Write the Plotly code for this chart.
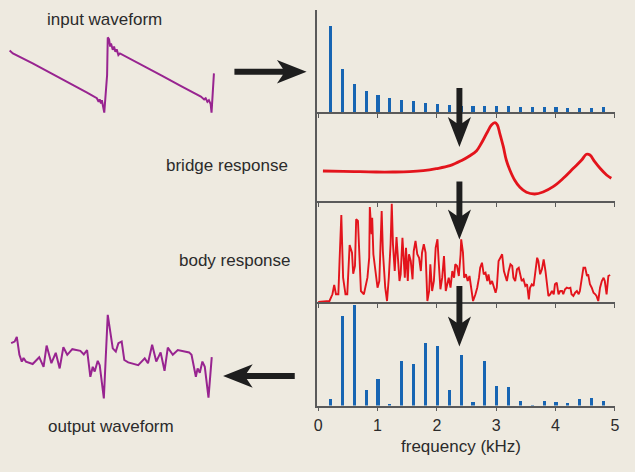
import plotly.graph_objects as go

# ---------------- data ----------------
harm_freq = [0.2, 0.4, 0.6, 0.8, 1.0, 1.2, 1.4, 1.6, 1.8, 2.0, 2.2, 2.4,
             2.6, 2.8, 3.0, 3.2, 3.4, 3.6, 3.8, 4.0, 4.2, 4.4, 4.6, 4.8]
input_spectrum = [85.7, 43, 27.7, 21, 16.7, 13.7, 12.3, 11.3, 9.3, 8, 7.3, 6.5,
                  6, 5.7, 5.7, 5.7, 4.7, 4.7, 4.7, 4.7, 4.3, 4.3, 4.3, 4.7]
output_spectrum = [6.3, 90, 101, 15.3, 27, 1.3, 45, 42, 62.3, 59.7, 15.3, 50.3,
                   4, 44.7, 19.7, 18.3, 4.7, 0.3, 4.7, 3.7, 3, 7, 7.3, 5]

bridge_freq = [0.08, 0.42, 0.70, 0.98, 1.26, 1.54, 1.77, 1.99, 2.22, 2.41, 2.55, 2.67,
               2.75, 2.84, 2.92, 2.98, 3.02, 3.06, 3.12, 3.17, 3.23, 3.31, 3.40, 3.51,
               3.65, 3.79, 3.96, 4.13, 4.30, 4.44, 4.52, 4.58, 4.66, 4.75, 4.86, 4.94]
bridge_amp = [30, 29.7, 29.3, 29, 29, 29.3, 30.3, 32.3, 35.3, 40.3, 45, 50.3,
              57.7, 67.7, 76, 78.3, 76, 67.7, 54.3, 41, 31, 21, 13.7, 8.7,
              7, 9, 14.3, 22.7, 32.7, 41, 46.7, 46, 39.3, 32.7, 26, 22.7]

body_freq = [0.00, 0.19, 0.24, 0.27, 0.30, 0.34, 0.36, 0.39, 0.42, 0.46,
             0.49, 0.53, 0.57, 0.59, 0.62, 0.64, 0.67, 0.69, 0.72, 0.77,
             0.83, 0.86, 0.87, 0.90, 0.91, 0.93, 0.97, 1.00, 1.03, 1.05,
             1.07, 1.09, 1.13, 1.16, 1.19, 1.22, 1.24, 1.26, 1.29, 1.32,
             1.35, 1.37, 1.39, 1.42, 1.45, 1.46, 1.48, 1.51, 1.53, 1.56,
             1.59, 1.61, 1.64, 1.67, 1.70, 1.73, 1.75, 1.78, 1.81, 1.84,
             1.87, 1.89, 1.92, 1.95, 1.98, 2.01, 2.03, 2.06, 2.09, 2.12,
             2.15, 2.17, 2.20, 2.23, 2.26, 2.29, 2.31, 2.34, 2.37, 2.40,
             2.41, 2.44, 2.46, 2.49, 2.52, 2.55, 2.58, 2.61, 2.65, 2.68,
             2.71, 2.73, 2.76, 2.79, 2.82, 2.85, 2.87, 2.90, 2.93, 2.96,
             2.99, 3.01, 3.04, 3.07, 3.10, 3.13, 3.15, 3.18, 3.21, 3.24,
             3.27, 3.29, 3.32, 3.35, 3.38, 3.41, 3.43, 3.46, 3.49, 3.52,
             3.55, 3.57, 3.60, 3.63, 3.66, 3.69, 3.71, 3.74, 3.77, 3.80,
             3.83, 3.85, 3.88, 3.91, 3.94, 3.97, 3.99, 4.02, 4.05, 4.08,
             4.11, 4.13, 4.16, 4.19, 4.22, 4.25, 4.27, 4.30, 4.33, 4.36,
             4.39, 4.41, 4.44, 4.47, 4.50, 4.53, 4.55, 4.58, 4.61, 4.64,
             4.67, 4.69, 4.72, 4.75, 4.78, 4.81, 4.83, 4.86, 4.89, 4.92]
body_amp = [0, 1, 7.7, 17, 7.7, 7.7, 41, 87, 24.3, 7.7,
            7.7, 57, 49.3, 28.3, 36, 82.7, 81, 47.7, 11, 7.7,
            24.3, 44.3, 95, 67.7, 84.3, 47.7, 31, 14.3, 21, 54.3,
            91, 51, 14.3, 1, 24.3, 57.7, 98.3, 57.7, 31, 65,
            41, 21, 27.7, 64.3, 34.3, 24.3, 54.3, 21, 47.7, 41,
            22.7, 51, 61, 47.7, 44.3, 31, 49.3, 57.7, 49.3, 1,
            11, 37.7, 11, 21, 54.3, 62.7, 41, 12.7, 24.3, 46,
            11, 17.7, 24.3, 14.3, 31, 24.3, 37.7, 36, 26, 47.7,
            62.7, 49.3, 24.3, 27.7, 21, 26, 14.3, 1, 7.7, 14.3,
            24.3, 34.3, 39.3, 27.7, 29.3, 21, 27.7, 17.7, 21, 14.3,
            9.3, 14.3, 41, 44.3, 47.7, 31, 27.7, 21, 31, 37.7,
            36, 24.3, 21, 32.7, 34.3, 24.3, 21, 22.7, 16, 17.7,
            2.7, 14.3, 17.7, 16, 31, 44.3, 41, 27.7, 32.7, 42.7,
            31, 19.3, 6, 7.7, 11, 7.7, 17.7, 19.3, 7.7, 11,
            11, 7.7, 12.7, 14.3, 13.7, 14.3, 7.7, 6, 9.3, 11,
            7.7, 11, 24.3, 34.3, 34.3, 26, 27.7, 17.7, 14.3, 9.3,
            7.7, 6, 1, 14.3, 21, 24.3, 21, 7.7, 26, 27]

in_t = [0.00, 0.15, 1.06, 1.97, 2.88, 3.56, 4.01, 4.09, 4.14, 4.20, 4.24, 4.29,
        4.35, 4.48, 4.51, 4.57, 4.62, 4.66, 4.74, 4.80, 4.86, 4.92, 5.00, 5.07,
        6.06, 6.97, 7.88, 8.56, 8.79, 8.94, 9.01, 9.09, 9.16, 9.24, 9.28, 9.39]
in_amp = [0.61, 0.54, 0.29, 0.03, -0.25, -0.44, -0.58, -0.67, -0.61, -0.71, -0.63, -0.75,
          -0.94, 0.00, 0.94, 0.89, 0.71, 0.79, 0.63, 0.71, 0.58, 0.64, 0.50, 0.54,
          0.26, -0.01, -0.28, -0.48, -0.54, -0.61, -0.58, -0.67, -0.63, -0.73, -0.94, 0.04]

out_t = [0.07, 0.23, 0.33, 0.45, 0.56, 0.64, 0.75, 1.06, 1.36, 1.56, 1.70, 1.92,
         2.12, 2.30, 2.47, 2.65, 2.88, 3.25, 3.41, 3.56, 3.71, 3.82, 3.91, 4.05,
         4.14, 4.33, 4.51, 4.74, 4.88, 5.00, 5.15, 5.27, 5.45, 5.91, 6.21, 6.36,
         6.55, 6.74, 6.94, 7.12, 7.27, 7.50, 7.73, 8.25, 8.36, 8.56, 8.64, 8.74,
         8.86, 8.97, 9.14, 9.29]
out_amp = [0.42, 0.46, 0.58, 0.13, -0.04, 0.05, -0.04, -0.10, 0.07, -0.17, 0.36, -0.08,
           0.18, -0.21, 0.32, 0.13, 0.27, 0.23, 0.14, 0.25, -0.42, -0.17, -0.29, -0.02,
           -0.13, -0.96, 1.13, 0.29, 0.21, 0.42, 0.46, 0.00, -0.06, -0.13, 0.04, -0.08,
           0.38, -0.04, 0.19, -0.27, 0.31, 0.13, 0.25, 0.19, 0.13, -0.42, -0.21, -0.32,
           -0.04, -0.17, -0.94, 0.07]

freq_ticks = [0, 1, 2, 3, 4, 5]
freq_ticktext = ["0", "1", "2", "3", "4", "5"]

# ---------------- styling / layout ----------------
W, H = 635, 472
BG = "#EEEAE0"
BLUE = "#1765B3"
RED = "#E3141C"
PURPLE = "#982490"
AXC = "#5a5a5a"
TXT = "#2b2b2b"
FONT = "Liberation Sans"


def px_x(x):
    return x / W


def px_y(y):
    return 1 - y / H


fig = go.Figure()

fig.add_trace(go.Bar(x=harm_freq, y=input_spectrum, width=0.052, marker=dict(color=BLUE, line=dict(width=0)),
                     xaxis="x", yaxis="y"))
fig.add_trace(go.Scatter(x=bridge_freq, y=bridge_amp, mode="lines", line=dict(color=RED, width=2.8, shape="spline"),
                         xaxis="x2", yaxis="y2"))
fig.add_trace(go.Scatter(x=body_freq, y=body_amp, mode="lines", line=dict(color=RED, width=1.9),
                         xaxis="x3", yaxis="y3"))
fig.add_trace(go.Bar(x=harm_freq, y=output_spectrum, width=0.052, marker=dict(color=BLUE, line=dict(width=0)),
                     xaxis="x4", yaxis="y4"))
fig.add_trace(go.Scatter(x=in_t, y=in_amp, mode="lines", line=dict(color=PURPLE, width=2),
                         xaxis="x5", yaxis="y5"))
fig.add_trace(go.Scatter(x=out_t, y=out_amp, mode="lines", line=dict(color=PURPLE, width=2),
                         xaxis="x6", yaxis="y6"))

# panel pixel boundaries (top, bottom, y-range max)
panels = [(10, 112, 102), (112, 201, 89), (201, 302, 101), (302, 405.5, 103.5)]
x_left, x_right = 317, 619
f0_px, px_per_khz = 318.7, 60.0
xrange_ = [(x_left - f0_px) / px_per_khz, (x_right - f0_px) / px_per_khz]

layout = dict(
    width=W, height=H, autosize=False,
    margin=dict(l=0, r=0, t=0, b=0),
    paper_bgcolor=BG, plot_bgcolor="rgba(0,0,0,0)",
    showlegend=False, bargap=0,
    font=dict(family=FONT, color=TXT),
)

for i, (top, bot, ymax) in enumerate(panels, start=1):
    sx = "" if i == 1 else str(i)
    last = i == 4
    layout["xaxis" + sx] = dict(
        domain=[px_x(x_left), px_x(x_right)], range=xrange_, anchor="y" + sx,
        showgrid=False, zeroline=False, showline=True, linecolor=AXC, linewidth=1.8,
        ticks="outside", ticklen=4, tickwidth=1.3, tickcolor=AXC,
        tickvals=freq_ticks, ticktext=freq_ticktext, showticklabels=last,
        tickfont=dict(size=16, color=TXT, family=FONT),
    )
    layout["yaxis" + sx] = dict(
        domain=[px_y(bot), px_y(top)], range=[0, ymax], anchor="x" + sx,
        showgrid=False, zeroline=False, showline=True, linecolor=AXC, linewidth=1.8,
        showticklabels=False, ticks="",
    )

wave_x_range = [-0.3045, 10.15]
layout["xaxis5"] = dict(domain=[0, px_x(230)], range=wave_x_range, anchor="y5", visible=False)
layout["yaxis5"] = dict(domain=[px_y(130), px_y(20)], range=[-1.375, 1.375], anchor="x5", visible=False)
layout["xaxis6"] = dict(domain=[0, px_x(230)], range=wave_x_range, anchor="y6", visible=False)
layout["yaxis6"] = dict(domain=[px_y(420), px_y(300)], range=[-1.5, 1.5], anchor="x6", visible=False)

fig.update_layout(**layout)


def arrow(x0, y0, x1, y1, w=3.0, hw=11.7, L=30.0, notch=6.0):
    dx, dy = x1 - x0, y1 - y0
    n = (dx * dx + dy * dy) ** 0.5
    ux, uy = dx / n, dy / n
    nx, ny = -uy, ux
    bx, by = x1 - ux * L, y1 - uy * L
    sx_, sy_ = bx + ux * notch, by + uy * notch
    pts = [
        (x0 + nx * w, y0 + ny * w),
        (sx_ + nx * w, sy_ + ny * w),
        (bx + nx * hw, by + ny * hw),
        (x1, y1),
        (bx - nx * hw, by - ny * hw),
        (sx_ - nx * w, sy_ - ny * w),
        (x0 - nx * w, y0 - ny * w),
    ]
    path = "M " + " L ".join(f"{px_x(px):.5f},{px_y(py):.5f}" for px, py in pts) + " Z"
    return dict(type="path", xref="paper", yref="paper", path=path,
                fillcolor="#1e1e1e", line=dict(width=0), layer="above")


shapes = [
    arrow(234, 71.7, 307, 71.7),
    arrow(295, 376, 222.5, 376),
    arrow(461.5, 88, 461.5, 147),
    arrow(461.5, 181.5, 461.5, 239.5),
    arrow(461.5, 286, 461.5, 346.5),
]
fig.update_layout(shapes=shapes)

labels = [
    ("input waveform", 103, 19, "center"),
    ("bridge response", 290, 166, "right"),
    ("body response", 293, 260, "right"),
    ("output waveform", 109.5, 426, "center"),
    ("frequency (kHz)", 463, 446.5, "center"),
]
fig.update_layout(annotations=[
    dict(text=t, x=px_x(x), y=px_y(y), xref="paper", yref="paper", xanchor=a, yanchor="middle",
         showarrow=False, font=dict(size=17, color=TXT, family=FONT))
    for t, x, y, a in labels
])

fig.write_html("out.html", config={"displayModeBar": False},
               post_script="document.body.style.margin='0';document.body.style.overflow='hidden';")
